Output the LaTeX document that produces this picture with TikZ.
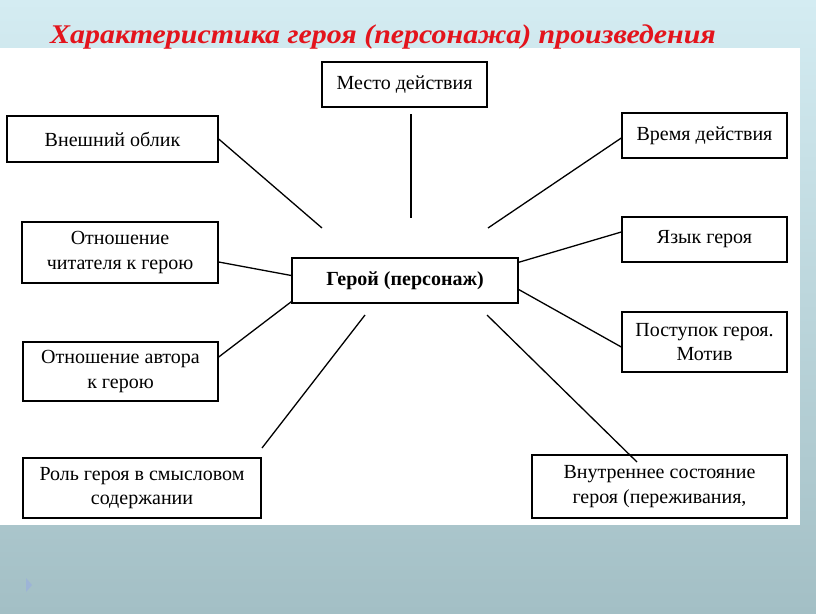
\documentclass[tikz,border=0pt]{standalone}
\usepackage{fontspec}
\setmainfont{Liberation Serif}
\usetikzlibrary{calc}
\definecolor{bgtop}{HTML}{D4ECF2}
\definecolor{bgbot}{HTML}{A3BFC5}
\definecolor{titlered}{HTML}{E3141C}
\definecolor{tri}{HTML}{9DB4D6}
\tikzset{
  box/.style={draw=black, line width=1.4pt, fill=white, align=center, inner sep=2pt,
    font=\fontsize{20}{24.5}\selectfont},
  link/.style={draw=black, line width=1.3pt},
}
\begin{document}
\begin{tikzpicture}[x=1pt,y=-1pt]
\useasboundingbox (0,0) rectangle (816,613);
\shade[top color=bgtop, bottom color=bgbot] (0,0) rectangle (816,613);
\fill[white] (0,48) rectangle (800,525);
\fill[tri] (26,578) -- (26,592) -- (32,585) -- cycle;
\node[anchor=base west, inner sep=0pt, text=titlered,
  font=\fontsize{27}{32}\selectfont\bfseries\itshape] (title) at (50,43)
  {\scalebox{1.108}[1]{Характеристика героя (персонажа) произведения}};

\node[box, minimum width=165pt, minimum height=45pt] (mesto) at (404.5,84.5) {Место действия};
\node[box, minimum width=211pt, minimum height=46pt] (vnesh) at (112.5,139) {Внешний облик};
\node[box, minimum width=165pt, minimum height=45pt] (vremya) at (704.5,135.5) {Время действия};
\node[box, minimum width=196pt, minimum height=61pt] (chit) at (120,252.5) {Отношение\\читателя к герою};
\node[box, minimum width=165pt, minimum height=45pt] (yazyk) at (704.5,239.5) {Язык героя};
\node[box, minimum width=226pt, minimum height=45pt, font=\fontsize{20}{24}\selectfont\bfseries] (geroy) at (405,280.5) {Герой (персонаж)};
\node[box, minimum width=195pt, minimum height=59pt] (avtor) at (120.5,371.5) {Отношение автора\\к герою};
\node[box, minimum width=165pt, minimum height=60pt] (postupok) at (704.5,342) {Поступок героя.\\Мотив};
\node[box, minimum width=238pt, minimum height=60pt] (rol) at (142,488) {Роль героя в смысловом\\содержании};
\node[box, minimum width=255pt, minimum height=63pt] (vnutr) at (659.5,486.5) {Внутреннее состояние\\героя (переживания,};

\coordinate (mA) at (411,114);
\coordinate (mB) at (411,218);
\coordinate (vnE) at (322,228);
\coordinate (vrE) at (488,228);
\coordinate (rA) at (262,448);
\coordinate (rB) at (365,315);
\coordinate (inA) at (637,462);
\coordinate (inB) at (487,315);

\draw[link] (mA) -- (mB);
\draw[link] (vnesh.east) -- (vnE);
\draw[link] ($(vremya.west)+(0,2.5)$) -- (vrE);
\draw[link] ($(chit.east)+(0,9.5)$) -- ($(geroy.west)+(0,-5)$);
\draw[link] ($(yazyk.west)+(0,-7.5)$) -- ($(geroy.north east)+(0,5)$);
\draw[link] ($(avtor.east)+(0,-14.5)$) -- ($(geroy.south west)+(0,-2)$);
\draw[link] ($(postupok.west)+(0,5)$) -- ($(geroy.east)+(0,9)$);
\draw[link] (rA) -- (rB);
\draw[link] (inB) -- (inA);
\end{tikzpicture}
\end{document}
